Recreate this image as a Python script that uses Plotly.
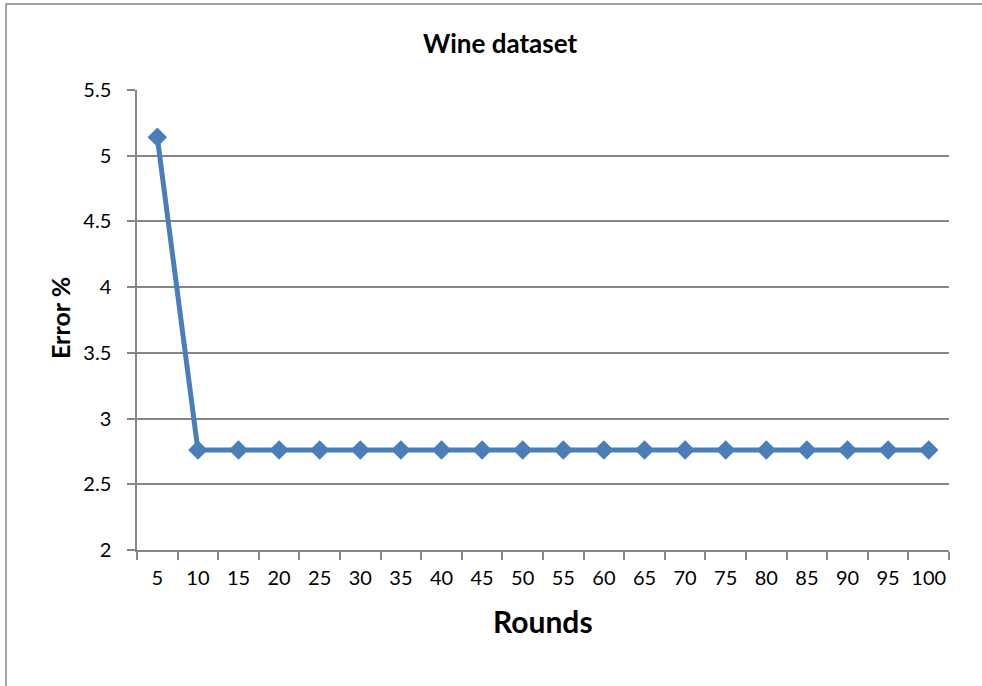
import plotly.graph_objects as go

# Error rate of the ensemble on the Wine dataset, per number of rounds
rounds = ["5", "10", "15", "20", "25", "30", "35", "40", "45", "50",
          "55", "60", "65", "70", "75", "80", "85", "90", "95", "100"]
error_pct = [5.14] + [2.76] * 19
y_ticks = [2, 2.5, 3, 3.5, 4, 4.5, 5, 5.5]
y_tick_text = ["2", "2.5", "3", "3.5", "4", "4.5", "5", "5.5"]

W, H = 982, 686
L, R, T, B = 137, 949, 90, 550  # plot-area edges in pixels

FONT = "Lato"
GRID = "#868686"
BLUE = "#4A7EBB"

fig = go.Figure()
fig.add_trace(go.Scatter(
    x=rounds, y=error_pct, mode="lines+markers",
    line=dict(color=BLUE, width=5),
    marker=dict(symbol="diamond", size=15, color=BLUE),
    showlegend=False, cliponaxis=False,
))

def px_x(p):
    return (p - L) / (R - L)

def px_y(p):
    return (B - p) / (B - T)

fig.update_layout(
    width=W, height=H,
    margin=dict(l=L, r=W - R, t=T, b=H - B),
    paper_bgcolor="white", plot_bgcolor="white",
    font=dict(family=FONT, color="black", size=20),
    xaxis=dict(
        type="category", range=[-0.5, len(rounds) - 0.5],
        tickson="boundaries", ticks="outside", ticklen=8, tickwidth=1.5,
        tickcolor=GRID, showline=True, linecolor=GRID, linewidth=1.5,
        showgrid=False, zeroline=False, tickfont=dict(size=20),
        tickangle=0, ticklabelstandoff=9,
    ),
    yaxis=dict(
        range=[2, 5.5], tickvals=y_ticks, ticktext=y_tick_text,
        ticks="outside", ticklen=8, tickwidth=1.5, tickcolor=GRID,
        showline=True, linecolor=GRID, linewidth=1.5,
        showgrid=True, gridcolor=GRID, gridwidth=1.5, zeroline=False,
        tickfont=dict(size=20), ticklabelstandoff=12,
    ),
    shapes=[dict(
        type="rect", xref="paper", yref="paper",
        x0=px_x(6), x1=px_x(W + 10), y0=px_y(H + 10), y1=px_y(4),
        line=dict(color=GRID, width=1.5), fillcolor="rgba(0,0,0,0)",
        layer="below",
    )],
    annotations=[
        dict(text="<b>Wine dataset</b>", xref="paper", yref="paper",
             x=px_x(500), y=px_y(43), showarrow=False,
             xanchor="center", yanchor="middle", font=dict(size=26)),
        dict(text="<b>Rounds</b>", xref="paper", yref="paper",
             x=px_x(543), y=px_y(621), showarrow=False,
             xanchor="center", yanchor="middle", font=dict(size=30)),
        dict(text="<b>Error %</b>", xref="paper", yref="paper",
             x=px_x(60), y=px_y(318), showarrow=False, textangle=-90,
             xanchor="center", yanchor="middle", font=dict(size=25)),
    ],
)

fig.write_html("out.html")
